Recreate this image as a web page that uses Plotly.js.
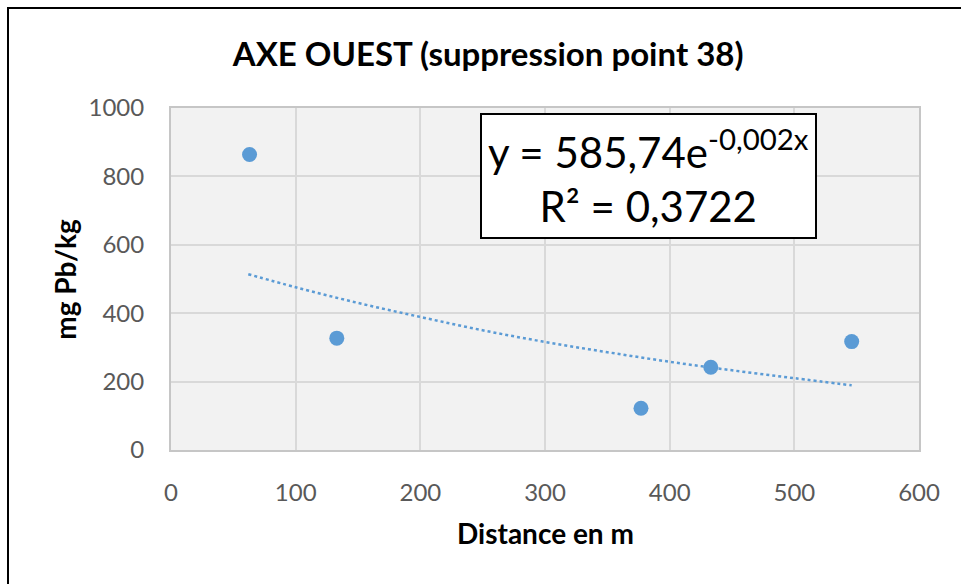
<!DOCTYPE html>
<html>
<head>
<meta charset="utf-8">
<script src="https://cdn.plot.ly/plotly-3.0.1.min.js"></script>
<style>
html,body{margin:0;padding:0;width:961px;height:584px;overflow:hidden;background:#fff;}
#frame{position:absolute;left:7px;top:7px;width:1100px;height:800px;border:2px solid #000;}
#chart{position:absolute;left:0;top:0;width:961px;height:584px;}
</style>
</head>
<body>
<div id="frame"></div>
<div id="chart"></div>
<script>
// Measured points
const distance = [63, 133, 377, 433, 546];
const leadMgKg = [864, 327, 122, 242, 317];
// Exponential trendline
const trendX = [62, 100, 150, 200, 250, 300, 350, 400, 450, 500, 546];
const trendY = [514, 476, 430, 389, 350, 316, 286, 258, 233, 210, 189];
const xTicks = [0, 100, 200, 300, 400, 500, 600];
const yTicks = [0, 200, 400, 600, 800, 1000];

const blue = '#5b9bd5';
const traces = [
  {x: trendX, y: trendY, type: 'scatter', mode: 'lines', line: {color: blue, width: 2.5, dash: 'dot', shape: 'spline'}, hoverinfo: 'skip'},
  {x: distance, y: leadMgKg, type: 'scatter', mode: 'markers', marker: {color: blue, size: 15}}
];

const tickFont = {family: 'Lato, "Open Sans", sans-serif', size: 24, color: '#595959'};
const layout = {
  width: 961, height: 584,
  margin: {l: 171, r: 42, t: 108, b: 134},
  paper_bgcolor: 'rgba(0,0,0,0)',
  plot_bgcolor: '#f2f2f2',
  showlegend: false,
  title: {text: '<b>AXE OUEST (suppression point 38)</b>', font: {family: 'Lato, sans-serif', size: 33, color: '#000'}, xref: 'container', x: 0.508, xanchor: 'center', yref: 'container', y: 0.906, yanchor: 'middle'},
  xaxis: {range: [0, 600], tickvals: xTicks, ticktext: xTicks.map(String), showgrid: true, gridcolor: '#d9d9d9', gridwidth: 2, zeroline: false,
    showline: true, linecolor: '#c6c6c6', linewidth: 2, mirror: true, ticks: 'outside', ticklen: 20, tickcolor: 'rgba(0,0,0,0)', tickfont: tickFont, fixedrange: true},
  yaxis: {range: [0, 1000], tickvals: yTicks, ticktext: yTicks.map(String), showgrid: true, gridcolor: '#d9d9d9', gridwidth: 2, zeroline: false,
    showline: true, linecolor: '#c6c6c6', linewidth: 2, mirror: true, ticks: 'outside', ticklen: 20, tickcolor: 'rgba(0,0,0,0)', tickfont: tickFont, fixedrange: true},
  annotations: [
    {text: '<b>Distance en m</b>', xref: 'paper', yref: 'paper', x: 0.5, y: -0.243, xanchor: 'center', yanchor: 'middle', showarrow: false,
      font: {family: 'Lato, sans-serif', size: 28, color: '#000'}},
    {text: '<b>mg Pb/kg</b>', xref: 'paper', yref: 'paper', x: -0.142, y: 0.5, xanchor: 'center', yanchor: 'middle', textangle: -90, showarrow: false,
      font: {family: 'Lato, sans-serif', size: 28, color: '#000'}},
    {text: 'y = 585,74e<sup>-0,002x</sup><br>R² = 0,3722', xref: 'paper', yref: 'paper', x: 0.638, y: 0.80, xanchor: 'center', yanchor: 'middle', showarrow: false,
      align: 'center', bgcolor: '#ffffff', bordercolor: '#000', borderwidth: 2, borderpad: 6,
      font: {family: 'Lato, sans-serif', size: 42, color: '#000'}}
  ]
};
Plotly.newPlot('chart', traces, layout, {displayModeBar: false, staticPlot: true});
</script>
</body>
</html>
